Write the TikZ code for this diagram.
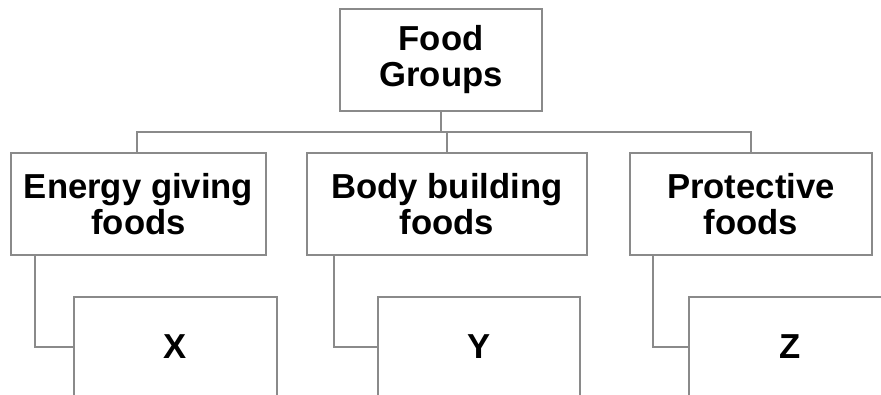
\documentclass[tikz,border=0pt]{standalone}
\usepackage{fontspec}
\newfontfamily\boxfont{Liberation Sans}
\usetikzlibrary{positioning}

\begin{document}
\begin{tikzpicture}[x=0.75pt,y=-0.75pt]
	\definecolor{linegray}{RGB}{138,138,138}
	\tikzstyle{box}=[rectangle,draw=linegray,line width=1.5pt,fill=white,inner sep=0pt,align=center,font=\boxfont\bfseries\fontsize{26}{27}\selectfont]
	\tikzstyle{link}=[draw=linegray,line width=1.5pt]
	\useasboundingbox (0,0) rectangle (881,394);
	\clip (0,0) rectangle (881,394);
	% groups
	\node[box,minimum width=151.5pt,minimum height=76.5pt] (top) at (441,60) {Food\\Groups};
	\node[box,minimum width=191.25pt,minimum height=76.5pt] (energy) at (138.5,204) {Energy giving\\foods};
	\node[box,minimum width=210pt,minimum height=76.5pt] (body) at (447,204) {Body building\\foods};
	\node[box,minimum width=181.5pt,minimum height=76.5pt] (protect) at (751,204) {Protective\\foods};
	% answers
	\node[box,minimum width=152.25pt,minimum height=75pt] (x) at (175.5,347) {X};
	\node[box,minimum width=151.5pt,minimum height=75pt] (y) at (479,347) {Y};
	\node[box,minimum width=152.25pt,minimum height=75pt] (z) at (790.5,347) {Z};
	% branches
	\coordinate (jl) at (137,132);
	\coordinate (jr) at (751,132);
	\draw[link] (top.south) -- (top.south |- jl);
	\draw[link] (energy.north -| jl) -- (jl) -- (jr) -- (protect.north);
	\draw[link] (body.north) -- (body.north |- jl);
	\draw[link] ([xshift=18.75pt]energy.south west) |- (x.west);
	\draw[link] ([xshift=21pt]body.south west) |- (y.west);
	\draw[link] ([xshift=18pt]protect.south west) |- (z.west);
\end{tikzpicture}
\end{document}
